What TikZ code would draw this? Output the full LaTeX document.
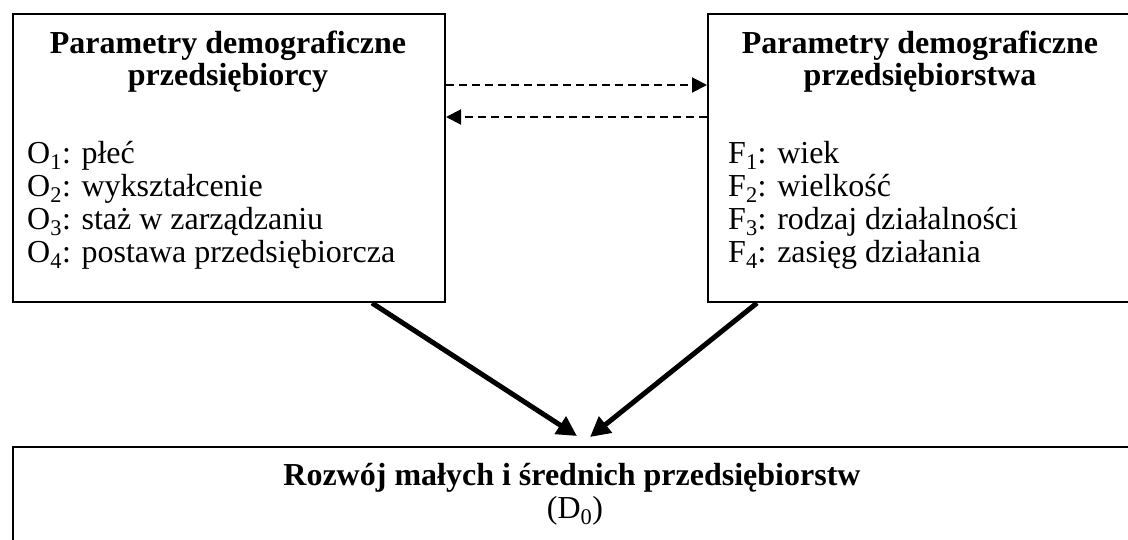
\documentclass[tikz,border=0pt]{standalone}
\usepackage{fontspec}
\setmainfont{Liberation Serif}
\usetikzlibrary{arrows.meta,calc}
\tikzset{
  box/.style={draw=black, line width=2pt, rectangle, inner sep=0pt, anchor=north west},
  txt/.style={anchor=base west, inner sep=0pt, font=\fontsize{32}{33}\selectfont},
  ttl/.style={anchor=base, inner sep=0pt, font=\fontsize{32}{33}\selectfont\bfseries},
  dasharrow/.style={line width=2pt, dash pattern=on 8pt off 5pt, -{Triangle[length=15pt,width=15pt]}},
  thickarrow/.style={line width=5pt, -{Triangle[length=20pt,width=20pt]}}
}
\begin{document}
\begin{tikzpicture}[x=1pt,y=-1pt]
\useasboundingbox (0,0) rectangle (1128,539);
\clip (0,0) rectangle (1128,539);
% boxes
\node[box, minimum width=432pt, minimum height=288pt] (L) at (12,13) {};
\node[box, minimum width=426pt, minimum height=288pt] (R) at (707,13) {};
\node[box, minimum width=1118pt, minimum height=154pt] (B) at (12,446) {};
% left box text
\node[ttl] (lt1) at (228,53) {Parametry demograficzne};
\node[ttl] (lt2) at (228,85) {przedsiębiorcy};
\node[txt] (o1) at (27,163) {O\textsubscript{1}: płeć};
\node[txt] (o2) at (27,196) {O\textsubscript{2}: wykształcenie};
\node[txt] (o3) at (27,229) {O\textsubscript{3}: staż w zarządzaniu};
\node[txt] (o4) at (27,262) {O\textsubscript{4}: postawa przedsiębiorcza};
% right box text
\node[ttl] (rt1) at (920,53) {Parametry demograficzne};
\node[ttl] (rt2) at (920,85) {przedsiębiorstwa};
\node[txt] (f1) at (728,163) {F\textsubscript{1}: wiek};
\node[txt] (f2) at (728,196) {F\textsubscript{2}: wielkość};
\node[txt] (f3) at (728,229) {F\textsubscript{3}: rodzaj działalności};
\node[txt] (f4) at (728,262) {F\textsubscript{4}: zasięg działania};
% bottom box text
\node[ttl] (bt1) at (572,485) {Rozwój małych i średnich przedsiębiorstw};
\node[anchor=base, inner sep=0pt, font=\fontsize{32}{33}\selectfont] (bt2) at (575,518) {(D\textsubscript{0})};
% dashed arrows
\coordinate (ya) at (0,85);
\coordinate (yb) at (0,117);
\draw[dasharrow] (L.east |- ya) -- (R.west |- ya);
\draw[dasharrow] (R.west |- yb) -- (L.east |- yb);
% thick arrows
\coordinate (tipL) at (577,436);
\coordinate (tipR) at (590,437);
\draw[thickarrow] ($(L.south west)+(360,0)$) -- (tipL);
\draw[thickarrow] ($(R.south west)+(50,0)$) -- (tipR);
\end{tikzpicture}
\end{document}
